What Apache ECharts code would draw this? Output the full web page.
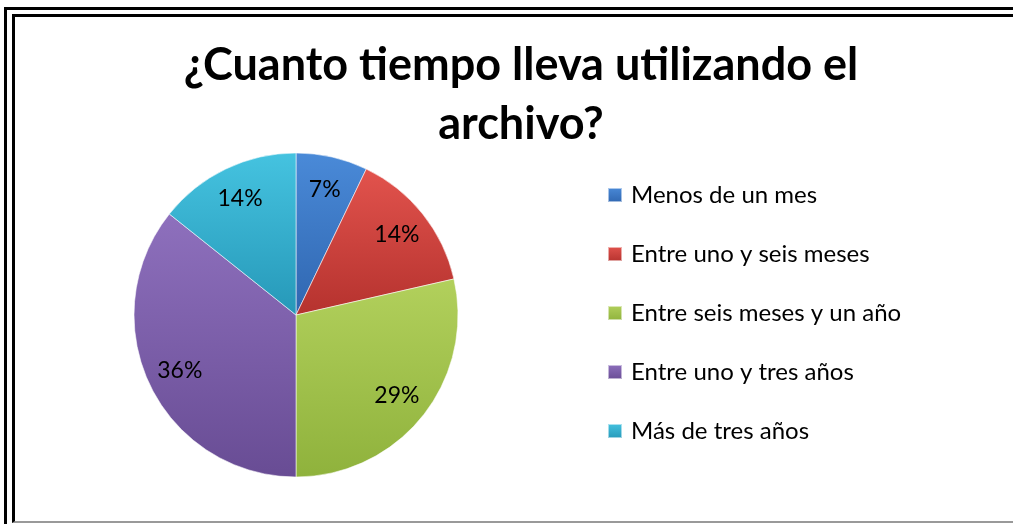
<!DOCTYPE html>
<html>
<head>
<meta charset="utf-8">
<script src="https://cdn.jsdelivr.net/npm/echarts@6/dist/echarts.min.js"></script>
<style>
  html, body { margin: 0; padding: 0; background: #fff; }
  #wrap { position: relative; width: 1013px; height: 524px; overflow: hidden; }
  .frame-outer {
    position: absolute; left: 4px; top: 7px; right: -20px; bottom: -20px;
    border-left: 3px solid #000; border-top: 3px solid #000;
  }
  .frame-inner {
    position: absolute; left: 12px; top: 14px; right: -20px; bottom: 1px;
    border-left: 3px solid #000; border-top: 3px solid #000;
    border-bottom: 2px solid #999;
  }
  #chart { position: absolute; left: 0; top: 0; width: 1013px; height: 524px; }
</style>
</head>
<body>
<div id="wrap">
  <div class="frame-outer"></div>
  <div class="frame-inner"></div>
  <div id="chart"></div>
</div>
<script>
const categories = [
  "Menos de un mes",
  "Entre uno y seis meses",
  "Entre seis meses y un año",
  "Entre uno y tres años",
  "Más de tres años",
];
const counts = [1, 2, 4, 5, 2];
const sliceColors = [
  ["#4a8ad8", "#2f66b0"],
  ["#e2534d", "#b5322e"],
  ["#b2d05c", "#8fb23c"],
  ["#8e70bd", "#684c94"],
  ["#45c3e0", "#2698b8"],
];

const chart = echarts.init(document.getElementById("chart"), null, { renderer: "canvas" });

function gradient(pair) {
  return new echarts.graphic.LinearGradient(0, 0, 0, 1, [
    { offset: 0, color: pair[0] },
    { offset: 1, color: pair[1] },
  ]);
}

const pieData = categories.map((name, i) => ({
  name: name,
  value: counts[i],
  itemStyle: { color: gradient(sliceColors[i]) },
}));

const labelData = categories.map((name, i) => ({
  name: name,
  value: counts[i],
}));

chart.setOption({
  animation: false,
  backgroundColor: "transparent",
  title: {
    text: "¿Cuanto tiempo lleva utilizando el\narchivo?",
    left: 516,
    top: 31,
    textAlign: "center",
    textStyle: {
      fontFamily: "Lato",
      fontWeight: "bold",
      fontSize: 45,
      lineHeight: 59,
      color: "#000",
    },
  },
  legend: {
    orient: "vertical",
    left: 607,
    top: 183,
    padding: 0,
    itemWidth: 14,
    itemHeight: 14,
    itemGap: 35,
    icon: "rect",
    data: categories,
    textStyle: {
      fontFamily: "Lato",
      fontSize: 24,
      lineHeight: 24,
      color: "#000",
      padding: [0, 0, 0, 4],
    },
  },
  series: [
    {
      name: "tiempo",
      type: "pie",
      center: [296, 315],
      radius: [0, 162],
      startAngle: 90,
      clockwise: true,
      label: { show: false },
      labelLine: { show: false },
      itemStyle: { borderColor: "rgba(255,255,255,0.55)", borderWidth: 1 },
      emphasis: { disabled: true },
      data: pieData,
    },
    {
      name: "etiquetas",
      type: "pie",
      center: [296, 315],
      radius: [90, 162],
      startAngle: 90,
      clockwise: true,
      silent: true,
      itemStyle: { color: "transparent", borderWidth: 0 },
      label: {
        show: true,
        position: "inside",
        formatter: (p) => Math.round(p.percent) + "%",
        fontFamily: "Lato",
        fontSize: 23,
        color: "#000",
      },
      labelLine: { show: false },
      emphasis: { disabled: true },
      data: labelData,
    },
  ],
});
</script>
</body>
</html>
